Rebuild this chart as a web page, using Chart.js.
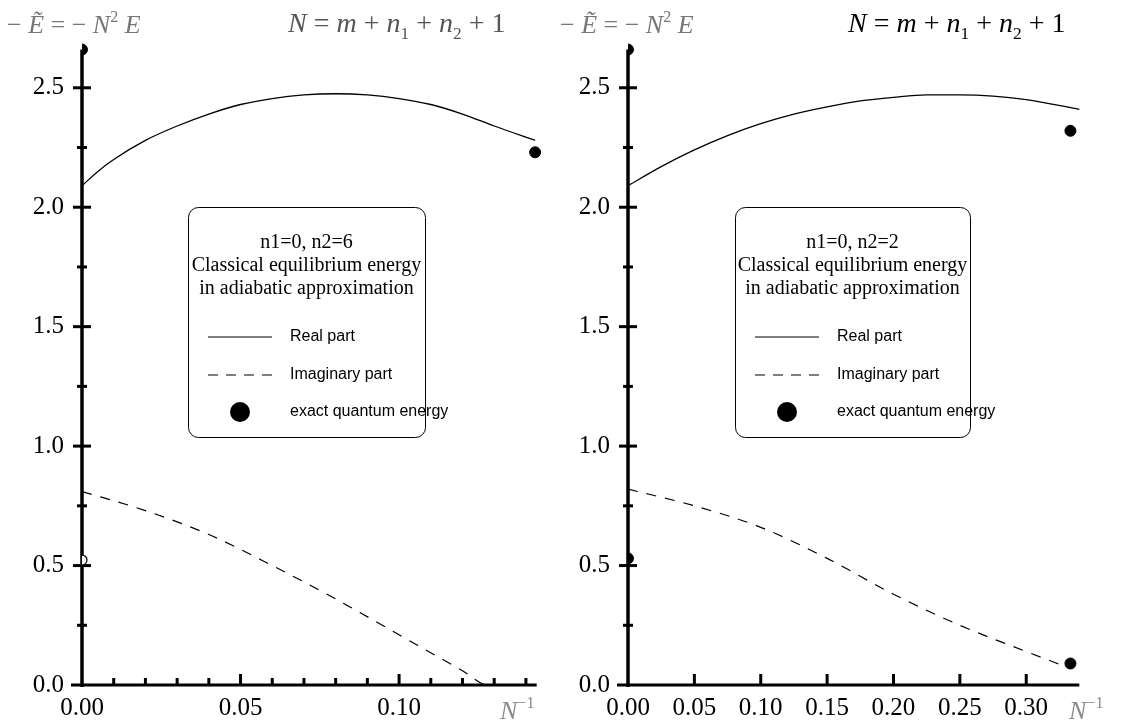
<!DOCTYPE html>
<html>
<head>
<meta charset="utf-8">
<script src="https://cdn.jsdelivr.net/npm/chart.js@4/dist/chart.umd.min.js"></script>
<style>
  html, body { margin: 0; padding: 0; background: #fff; }
  #wrap { position: relative; width: 1123px; height: 724px; }
  #left { position: absolute; left: 0; top: 0; }
  #right { position: absolute; left: 560px; top: 0; }
</style>
</head>
<body>
<div id="wrap">
  <canvas id="left" width="560" height="724"></canvas>
  <canvas id="right" width="563" height="724"></canvas>
</div>
<script>
// ---- left panel: n1=0, n2=6 (N = 7) ----
const leftRealX = [0, 0.005, 0.01, 0.02, 0.03, 0.04, 0.05, 0.06, 0.07, 0.08, 0.09, 0.10, 0.11, 0.12, 0.13, 0.1429];
const leftReal  = [2.09, 2.15, 2.2, 2.28, 2.34, 2.39, 2.43, 2.455, 2.47, 2.475, 2.47, 2.455, 2.43, 2.39, 2.34, 2.28];
const leftImagX = [0, 0.02, 0.04, 0.06, 0.08, 0.10, 0.12, 0.128, 0.1429];
const leftImag  = [0.81, 0.73, 0.63, 0.5, 0.36, 0.21, 0.06, 0.0, 0.0];
const leftExactX = [0, 0.1429];
const leftExactY = [2.66, 2.23];
const leftOpenX = [0];
const leftOpenY = [0.523];

// ---- right panel: n1=0, n2=2 (N = 3) ----
const rightRealX = [0, 0.025, 0.05, 0.075, 0.10, 0.125, 0.15, 0.175, 0.20, 0.225, 0.25, 0.275, 0.30, 0.34];
const rightReal  = [2.09, 2.17, 2.24, 2.3, 2.35, 2.39, 2.42, 2.445, 2.46, 2.47, 2.47, 2.465, 2.45, 2.41];
const rightImagX = [0, 0.05, 0.10, 0.15, 0.20, 0.25, 0.30, 0.333];
const rightImag  = [0.82, 0.75, 0.66, 0.53, 0.38, 0.25, 0.14, 0.07];
const rightExactX = [0, 0.3333, 0, 0.3333];
const rightExactY = [2.66, 2.32, 0.53, 0.09];

const legendTitle1 = ["n1=0, n2=6", "Classical equilibrium energy", "in adiabatic approximation"];
const legendTitle2 = ["n1=0, n2=2", "Classical equilibrium energy", "in adiabatic approximation"];
const legendRows = ["Real part", "Imaginary part", "exact quantum energy"];

const SERIF = '"Liberation Serif", "Times New Roman", serif';
const SANS = '"Liberation Sans", Arial, sans-serif';

function pts(xs, ys) {
  return xs.map((x, i) => ({ x: x, y: ys[i] }));
}

function isMult(v, step) {
  const r = v / step;
  return Math.abs(r - Math.round(r)) < 1e-6;
}

// draw a little formula made of pieces (italic / sub / sup)
function drawMath(ctx, x, y, size, color, parts) {
  ctx.save();
  ctx.fillStyle = color;
  ctx.textBaseline = "alphabetic";
  ctx.textAlign = "left";
  let cx = x;
  parts.forEach((p) => {
    const s = p.sub || p.sup ? size * 0.62 : size;
    ctx.font = (p.i ? "italic " : "") + s + "px " + SERIF;
    let dy = 0;
    if (p.sub) dy = size * 0.25;
    if (p.sup) dy = -size * 0.42;
    ctx.fillText(p.t, cx, y + dy);
    cx += ctx.measureText(p.t).width;
  });
  ctx.restore();
}

const axesPlugin = {
  id: "axesPlugin",
  beforeDatasetsDraw(chart, args, o) {
    const ctx = chart.ctx;
    const xs = chart.scales.x;
    const ys = chart.scales.y;
    const x0 = xs.getPixelForValue(0);
    const y0 = ys.getPixelForValue(0);
    ctx.save();
    ctx.strokeStyle = "#000";
    ctx.lineCap = "butt";
    // y axis
    ctx.lineWidth = 3.5;
    ctx.beginPath();
    ctx.moveTo(x0, ys.getPixelForValue(o.yTop));
    ctx.lineTo(x0, y0 + 2);
    ctx.stroke();
    // x axis
    ctx.lineWidth = 3;
    ctx.beginPath();
    ctx.moveTo(x0 - 11, y0);
    ctx.lineTo(xs.getPixelForValue(o.xEnd), y0);
    ctx.stroke();
    // y ticks (cross the axis)
    ys.ticks.forEach((t) => {
      if (t.value <= 0 || t.value > o.yTop - 0.05) return;
      const py = ys.getPixelForValue(t.value);
      const half = isMult(t.value, 0.5) ? 9 : 5;
      ctx.beginPath();
      ctx.moveTo(x0 - half, py);
      ctx.lineTo(x0 + half, py);
      ctx.stroke();
    });
    // x ticks (upwards)
    xs.ticks.forEach((t) => {
      if (t.value <= 0 || t.value > o.xEnd + 1e-6) return;
      const px = xs.getPixelForValue(t.value);
      const h = isMult(t.value, 0.05) ? 11 : 7;
      ctx.beginPath();
      ctx.moveTo(px, y0);
      ctx.lineTo(px, y0 - h);
      ctx.stroke();
    });
    ctx.restore();
  },
  afterDraw(chart, args, o) {
    const ctx = chart.ctx;
    // headings
    drawMath(ctx, o.eLabel.x, o.eLabel.y, 26, o.eLabel.color, [
      { t: "− " }, { t: "Ẽ", i: true }, { t: " = − " }, { t: "N", i: true }, { t: "2", sup: true }, { t: " " }, { t: "E", i: true },
    ]);
    drawMath(ctx, o.nLabel.x, o.nLabel.y, 28, o.nLabel.color, [
      { t: "N", i: true }, { t: " = " }, { t: "m", i: true }, { t: " + " }, { t: "n", i: true }, { t: "1", sub: true },
      { t: " + " }, { t: "n", i: true }, { t: "2", sub: true }, { t: " + 1" },
    ]);
    drawMath(ctx, o.xTitle.x, o.xTitle.y, 26, "#8a8a8a", [{ t: "N", i: true }, { t: "−1", sup: true }]);

    // legend box
    const b = o.box;
    ctx.save();
    ctx.fillStyle = "#fff";
    ctx.strokeStyle = "#000";
    ctx.lineWidth = 1;
    ctx.beginPath();
    ctx.roundRect(b.x + 0.5, b.y + 0.5, b.w, b.h, 10);
    ctx.fill();
    ctx.stroke();
    ctx.fillStyle = "#000";
    ctx.textAlign = "center";
    ctx.textBaseline = "alphabetic";
    ctx.font = "20px " + SERIF;
    o.title.forEach((line, i) => {
      ctx.fillText(line, b.x + b.w / 2, b.y + 41 + i * 23);
    });
    ctx.textAlign = "left";
    ctx.textBaseline = "middle";
    ctx.font = "16px " + SANS;
    const rowY = [b.y + 130, b.y + 168, b.y + 205];
    // solid sample
    ctx.lineWidth = 1.2;
    ctx.beginPath();
    ctx.moveTo(b.x + 20, rowY[0]);
    ctx.lineTo(b.x + 84, rowY[0]);
    ctx.stroke();
    // dashed sample
    ctx.setLineDash([10, 8]);
    ctx.beginPath();
    ctx.moveTo(b.x + 20, rowY[1]);
    ctx.lineTo(b.x + 84, rowY[1]);
    ctx.stroke();
    ctx.setLineDash([]);
    // dot sample
    ctx.beginPath();
    ctx.arc(b.x + 52, rowY[2], 10, 0, Math.PI * 2);
    ctx.fill();
    legendRows.forEach((txt, i) => {
      ctx.fillText(txt, b.x + 102, rowY[i]);
    });
    ctx.restore();
  },
};

function makeChart(id, cfg) {
  return new Chart(document.getElementById(id), {
    type: "scatter",
    data: {
      datasets: [
        {
          label: "Real part",
          data: pts(cfg.realX, cfg.real),
          showLine: true,
          borderColor: "#000",
          borderWidth: 1.3,
          pointRadius: 0,
          cubicInterpolationMode: "monotone",
        },
        {
          label: "Imaginary part",
          data: pts(cfg.imagX, cfg.imag),
          showLine: true,
          borderColor: "#000",
          borderWidth: 1.2,
          borderDash: [10, 9],
          pointRadius: 0,
          cubicInterpolationMode: "monotone",
        },
        {
          label: "exact quantum energy",
          data: pts(cfg.exactX, cfg.exactY),
          showLine: false,
          pointRadius: 5.5,
          pointBackgroundColor: "#000",
          pointBorderColor: "#000",
        },
        {
          label: "open",
          data: pts(cfg.openX, cfg.openY),
          showLine: false,
          pointRadius: 5,
          pointBackgroundColor: "#fff",
          pointBorderColor: "#000",
          pointBorderWidth: 1.2,
        },
      ],
    },
    options: {
      responsive: false,
      animation: false,
      layout: { padding: { top: 40, left: 0, right: 0, bottom: 0 } },
      plugins: {
        legend: { display: false },
        tooltip: { enabled: false },
        axesPlugin: cfg.deco,
      },
      scales: {
        x: {
          type: "linear",
          min: 0,
          max: cfg.xMax,
          afterFit: (s) => { s.height = 39; },
          grid: { display: false, drawTicks: false },
          border: { display: false },
          ticks: {
            stepSize: cfg.xStep,
            includeBounds: false,
            autoSkip: false,
            maxRotation: 0,
            padding: 8,
            color: "#000",
            font: { family: SERIF, size: 25 },
            callback: (v) => (isMult(v, 0.05) && v <= cfg.xLabelMax ? v.toFixed(2) : ""),
          },
        },
        y: {
          type: "linear",
          min: 0,
          max: 2.7,
          afterFit: (s) => { s.width = cfg.axisLeft; },
          grid: { display: false, drawTicks: false },
          border: { display: false },
          ticks: {
            stepSize: 0.25,
            includeBounds: false,
            autoSkip: false,
            padding: 18,
            color: "#000",
            font: { family: SERIF, size: 25 },
            callback: (v) => (isMult(v, 0.5) ? v.toFixed(1) : ""),
          },
        },
      },
    },
    plugins: [axesPlugin],
  });
}

makeChart("left", {
  realX: leftRealX, real: leftReal,
  imagX: leftImagX, imag: leftImag,
  exactX: leftExactX, exactY: leftExactY,
  openX: leftOpenX, openY: leftOpenY,
  xMax: 0.1487, xStep: 0.01, xLabelMax: 0.11, axisLeft: 82,
  deco: {
    yTop: 2.66, xEnd: 0.1434,
    eLabel: { x: 7, y: 33, color: "#777" },
    nLabel: { x: 288, y: 32, color: "#555" },
    xTitle: { x: 500, y: 719 },
    box: { x: 188, y: 207, w: 237, h: 230 },
    title: legendTitle1,
  },
});

makeChart("right", {
  realX: rightRealX, real: rightReal,
  imagX: rightImagX, imag: rightImag,
  exactX: rightExactX, exactY: rightExactY,
  openX: [], openY: [],
  xMax: 0.368, xStep: 0.05, xLabelMax: 0.31, axisLeft: 68,
  deco: {
    yTop: 2.66, xEnd: 0.34,
    eLabel: { x: 0, y: 33, color: "#777" },
    nLabel: { x: 288, y: 32, color: "#000" },
    xTitle: { x: 509, y: 719 },
    box: { x: 175, y: 207, w: 235, h: 230 },
    title: legendTitle2,
  },
});
</script>
</body>
</html>
